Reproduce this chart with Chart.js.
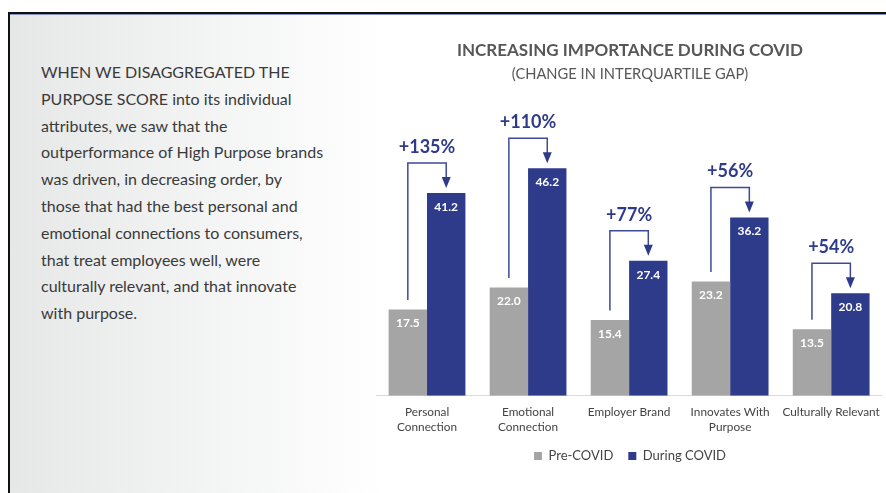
<!DOCTYPE html>
<html lang="en">
<head>
<meta charset="UTF-8">
<title>Increasing Importance During COVID</title>
<script src="https://cdn.jsdelivr.net/npm/chart.js"></script>
<style>
  body { margin: 0; background: #fff; width: 886px; height: 493px; overflow: hidden; position: relative; }
  #topline { position: absolute; left: 8px; top: 12px; width: 878px; height: 2px; background: #111; }
  #blueline { position: absolute; left: 10px; top: 14px; width: 876px; height: 1px; background: #8590c6; }
  #leftline { position: absolute; left: 8px; top: 12px; width: 2px; height: 481px; background: #111; }
  #panel { position: absolute; left: 10px; top: 15px; width: 372px; height: 478px;
           background: linear-gradient(to right, #e6e7e7, #ffffff); }
  #text { position: absolute; left: 41px; top: 59px; font-family: Lato, "Open Sans", sans-serif;
          font-size: 16px; line-height: 26.8px; color: #3a3a3a; white-space: nowrap; }
  #chartBox { position: absolute; left: 370px; top: 14px; width: 520px; height: 479px; }
</style>
</head>
<body>
<div id="panel"></div>
<div id="topline"></div>
<div id="blueline"></div>
<div id="leftline"></div>
<div id="text">
WHEN WE DISAGGREGATED THE<br>
PURPOSE SCORE into its individual<br>
attributes, we saw that the<br>
outperformance of High Purpose brands<br>
was driven, in decreasing order, by<br>
those that had the best personal and<br>
emotional connections to consumers,<br>
that treat employees well, were<br>
culturally relevant, and that innovate<br>
with purpose.
</div>
<div id="chartBox"><canvas id="myChart" width="520" height="479"></canvas></div>

<script>
// chart data
const categories = [['Personal', 'Connection'], ['Emotional', 'Connection'], 'Employer Brand', ['Innovates With', 'Purpose'], 'Culturally Relevant'];
const preCovid = [17.5, 22.0, 15.4, 23.2, 13.5];
const duringCovid = [41.2, 46.2, 27.4, 36.2, 20.8];
const changeLabels = ['+135%', '+110%', '+77%', '+56%', '+54%'];

const GRAY = '#a5a5a5';
const NAVY = '#2e3b8b';
const FONT = 'Lato, "Open Sans", sans-serif';

// value labels inside bars + bracket arrows with % change
const annotatePlugin = {
    id: 'annotate',
    afterDatasetsDraw(chart) {
        const ctx = chart.ctx;
        const pre = chart.getDatasetMeta(0).data;
        const during = chart.getDatasetMeta(1).data;

        ctx.save();
        ctx.textAlign = 'center';
        ctx.textBaseline = 'middle';
        ctx.font = 'bold 12px ' + FONT;
        ctx.fillStyle = '#ffffff';
        [pre, during].forEach((bars, d) => {
            const values = d === 0 ? preCovid : duringCovid;
            bars.forEach((bar, i) => {
                ctx.fillText(values[i].toFixed(1), bar.x, bar.y + 14);
            });
        });

        ctx.strokeStyle = '#3d4a9c';
        ctx.lineWidth = 1.5;
        ctx.fillStyle = NAVY;
        pre.forEach((g, i) => {
            const b = during[i];
            const top = b.y - 30;
            ctx.beginPath();
            ctx.moveTo(g.x, g.y - 9.5);
            ctx.lineTo(g.x, top);
            ctx.lineTo(b.x, top);
            ctx.lineTo(b.x, b.y - 14);
            ctx.stroke();
            // arrow head
            ctx.beginPath();
            ctx.moveTo(b.x - 4.5, b.y - 16);
            ctx.lineTo(b.x + 4.5, b.y - 16);
            ctx.lineTo(b.x, b.y - 5);
            ctx.closePath();
            ctx.fill();
            // % label
            ctx.font = 'bold 18px ' + FONT;
            ctx.fillText(changeLabels[i], (g.x + b.x) / 2, top - 16);
        });
        ctx.restore();
    }
};

const ctx = document.getElementById('myChart').getContext('2d');
const myChart = new Chart(ctx, {
    type: 'bar',
    data: {
        labels: categories,
        datasets: [
            {
                label: 'Pre-COVID',
                data: preCovid,
                backgroundColor: GRAY,
                borderWidth: 0,
                barPercentage: 1,
                categoryPercentage: 0.76
            },
            {
                label: 'During COVID',
                data: duringCovid,
                backgroundColor: NAVY,
                borderWidth: 0,
                barPercentage: 1,
                categoryPercentage: 0.76
            }
        ]
    },
    options: {
        responsive: false,
        devicePixelRatio: 1,
        animation: false,
        layout: { padding: { left: 6.5, right: 6.5, top: 0, bottom: 20.5 } },
        plugins: {
            title: {
                display: true,
                text: 'INCREASING IMPORTANCE DURING COVID',
                color: '#575757',
                font: { family: FONT, size: 17, weight: 'bold' },
                padding: { top: 26, bottom: 0 }
            },
            subtitle: {
                display: true,
                text: '(CHANGE IN INTERQUARTILE GAP)',
                color: '#575757',
                font: { family: FONT, size: 14.7 },
                padding: { top: 5, bottom: 42 }
            },
            legend: {
                position: 'bottom',
                labels: {
                    boxWidth: 8,
                    boxHeight: 8,
                    padding: 15,
                    color: '#444444',
                    font: { family: FONT, size: 13 }
                }
            },
            tooltip: { enabled: false }
        },
        scales: {
            x: {
                grid: { display: false, drawTicks: false },
                border: { display: true, color: '#d9d9d9', width: 1 },
                ticks: {
                    padding: 9.5,
                    color: '#444444',
                    font: { family: FONT, size: 11.8, lineHeight: 1.22 },
                    maxRotation: 0,
                    autoSkip: false
                },
                // leave less room under the axis so the baseline sits lower
                afterFit(scale) { scale.height -= 9; }
            },
            y: {
                display: false,
                beginAtZero: true,
                max: 55
            }
        }
    },
    plugins: [annotatePlugin]
});
</script>
</body>
</html>
